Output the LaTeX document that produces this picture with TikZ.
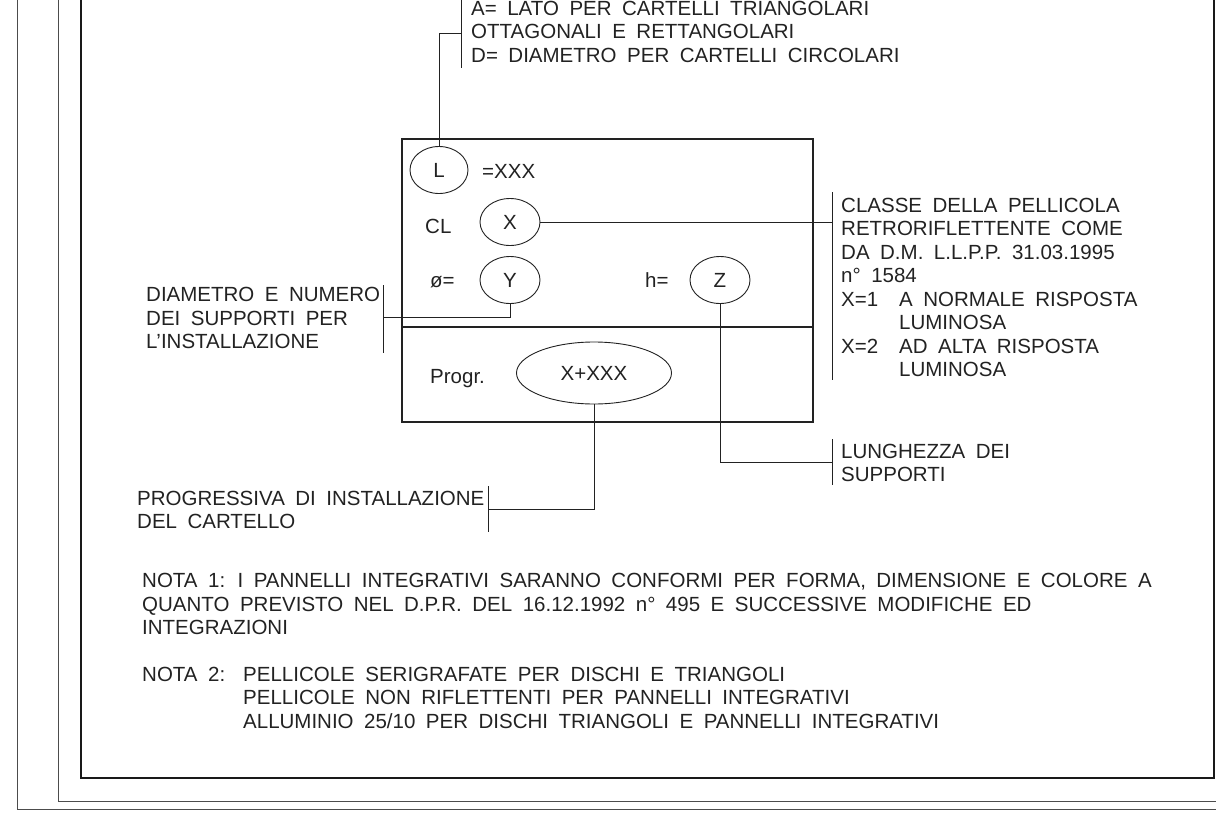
\documentclass[tikz,border=0pt]{standalone}
\usepackage{fontspec}
\setmainfont{Liberation Sans}
\usetikzlibrary{shapes.geometric}

\definecolor{ink}{HTML}{222222}
\newcommand{\cadfont}{\fontsize{20.5}{23.5}\selectfont\spaceskip=10.5pt plus 1pt\relax}

\tikzset{
  cadtxt/.style={inner sep=0pt, anchor=base west, align=left, font=\cadfont, text=ink},
  oval/.style={draw=ink, ellipse, inner sep=0pt, line width=0.9pt, font=\cadfont, text=ink,
    minimum width=60pt, minimum height=47pt},
  leader/.style={draw=ink, line width=0.9pt},
  framebox/.style={draw=ink, line width=1.3pt},
  framethin/.style={draw=black!70, line width=1pt},
  framebold/.style={draw=black!90, line width=2.2pt}
}

\begin{document}
\begin{tikzpicture}[x=1pt,y=-1pt]
    \useasboundingbox (0,0) rectangle (1216,827);

    \draw[framethin] (17,-5) -- (17,809) -- (1221,809);
    \draw[framethin] (58,-5) -- (58,801) -- (1221,801);
    \draw[framebold] (81,-5) -- (81,778) -- (1214,778) -- (1214,-5);

    % cartello
    \draw[framebox] (402,139) rectangle (813,422);
    \draw[framebox] (402,327) -- (813,327);

    \node[oval, minimum width=58pt] (L) at (439,170) {L};
    \node[cadtxt] (Lval) at (482,178) {=XXX};
    \node[cadtxt] (cl) at (425,233) {CL};
    \node[oval] (X) at (510,222) {X};
    \node[cadtxt] (phi) at (430,287) {ø=};
    \node[oval] (Y) at (510,280) {Y};
    \node[cadtxt] (h) at (645,287) {h=};
    \node[oval] (Z) at (720,280) {Z};
    \node[cadtxt] (progr) at (430,383) {Progr.};
    \node[oval, minimum width=155pt, minimum height=62pt] (P) at (594,373) {X+XXX};

    % note (base = ultima riga)
    \node[cadtxt] (dimA) at (471,62) {A= LATO PER CARTELLI TRIANGOLARI\\OTTAGONALI E RETTANGOLARI\\D= DIAMETRO PER CARTELLI CIRCOLARI};
    \node[cadtxt] (classe) at (841,376.5) {CLASSE DELLA PELLICOLA\\RETRORIFLETTENTE COME\\DA D.M. L.L.P.P. 31.03.1995\\n° 1584\\X=1\hspace{21pt}A NORMALE RISPOSTA\\\hspace*{58pt}LUMINOSA\\X=2\hspace{21pt}AD ALTA RISPOSTA\\\hspace*{58pt}LUMINOSA};
    \node[cadtxt] (lungh) at (841,481.5) {LUNGHEZZA DEI\\SUPPORTI};
    \node[cadtxt] (diam) at (146,348.5) {DIAMETRO E NUMERO\\DEI SUPPORTI PER\\L’INSTALLAZIONE};
    \node[cadtxt] (progtxt) at (137,528.5) {PROGRESSIVA DI INSTALLAZIONE\\DEL CARTELLO};
    \node[cadtxt] (nota1) at (142,634.5) {NOTA 1: I PANNELLI INTEGRATIVI SARANNO CONFORMI PER FORMA, DIMENSIONE E COLORE A\\QUANTO PREVISTO NEL D.P.R. DEL 16.12.1992 n° 495 E SUCCESSIVE MODIFICHE ED\\INTEGRAZIONI};
    \node[cadtxt] (nota2) at (142,681) {NOTA 2:};
    \node[cadtxt] (nota2txt) at (243,728) {PELLICOLE SERIGRAFATE PER DISCHI E TRIANGOLI\\PELLICOLE NON RIFLETTENTI PER PANNELLI INTEGRATIVI\\ALLUMINIO 25/10 PER DISCHI TRIANGOLI E PANNELLI INTEGRATIVI};

    \draw[leader] (461,-5) -- (461,68);
    \draw[leader] (832,192) -- (832,380);
    \draw[leader] (383,285) -- (383,353);
    \draw[leader] (832,439) -- (832,485);
    \draw[leader] (488,486) -- (488,532);

    \coordinate (tL) at (461,33);
    \coordinate (tX) at (832,222);
    \coordinate (tY) at (383,317);
    \coordinate (tZ) at (832,462);
    \coordinate (tP) at (488,509);

    \draw[leader] (L.north) |- (tL);
    \draw[leader] (X.east) -- (tX);
    \draw[leader] (Y.south) |- (tY);
    \draw[leader] (Z.south) |- (tZ);
    \draw[leader] (P.south) |- (tP);
\end{tikzpicture}
\end{document}
